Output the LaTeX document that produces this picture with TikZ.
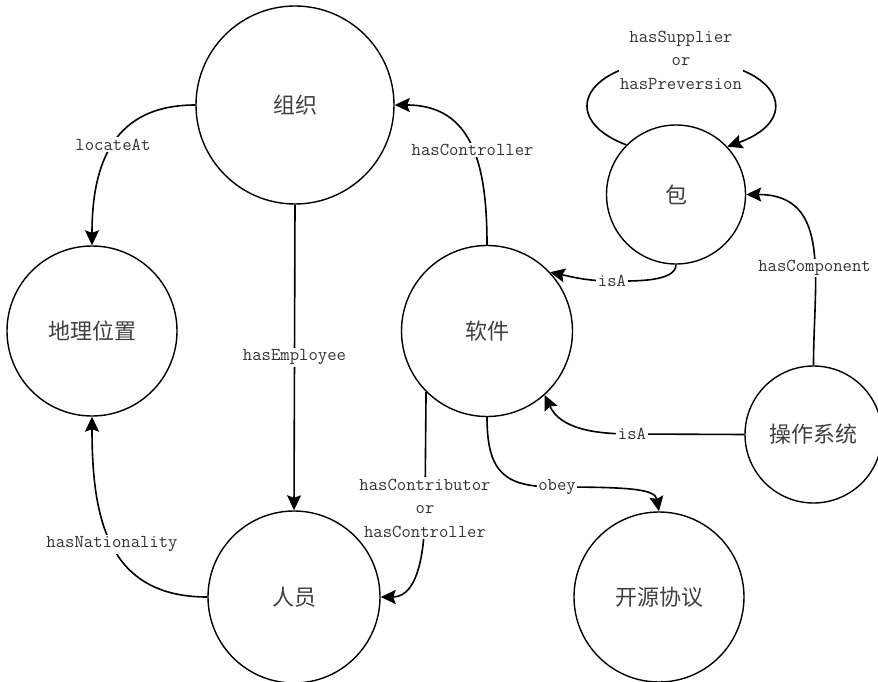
\documentclass[tikz,border=0pt]{standalone}
\usepackage{fontspec}
\newfontfamily\cjk{Noto Sans CJK SC}
\usetikzlibrary{arrows.meta}
\begin{document}
\begin{tikzpicture}[x=1pt,y=-1pt,
  concept/.style={circle,draw,line width=1.4pt,inner sep=0pt,minimum size=#1,
    font=\cjk\fontsize{22}{26}\selectfont,text=black!75},
  edge/.style={line width=1.6pt,-{Stealth[length=15pt,width=14pt,inset=2.5pt]}},
  lbl/.style={fill=white,inner sep=1.5pt,align=center,text=black!80,
    font=\ttfamily\fontsize{18.2}{23.5}\selectfont}]
\useasboundingbox (0,0) rectangle (878,682);
\fill[white] (0,0) rectangle (878,682);

% concepts
\node[concept=198pt] (org)     at (295,105)   {组织};
\node[concept=170pt] (geo)     at (92,331)    {地理位置};
\node[concept=172pt] (person)  at (294,597)   {人员};
\node[concept=171pt] (soft)    at (487,331)   {软件};
\node[concept=139pt] (pkg)     at (676,194.5) {包};
\node[concept=137pt] (os)      at (813.5,434.5) {操作系统};
\node[concept=170pt] (license) at (659,597)   {开源协议};

% waypoints of the bent relations
\coordinate (isaP)  at (612,281);
\coordinate (isaO)  at (632,434);
\coordinate (obeyC) at (557,487);
\coordinate (contC) at (425,508);
\coordinate (loopC) at (681,60);

% relations
\draw[edge] (org.west) to[out=180,in=90,looseness=1.2] node[lbl]{locateAt} (geo.north);
\draw[edge] (org.south) -- node[lbl]{hasEmployee} (person.north);
\draw[edge] (person.west) to[out=180,in=270,looseness=1.2] node[lbl]{hasNationality} (geo.south);
\draw[edge] (soft.north) to[out=90,in=0,looseness=1.2] node[lbl,pos=0.47]{hasController} (org.east);
\draw[edge] (pkg.south) to[out=-90,in=0,looseness=0.7] (isaP) node[lbl]{isA}
  to[out=180,in=-12] (soft.43);
\draw[edge] (os.west) -- (isaO) node[lbl]{isA} to[out=180,in=-65] (soft.-48);
\draw[edge] (os.north) to[out=90,in=0,looseness=1.2] node[lbl,pos=0.4]{hasComponent} (pkg.east);
\draw[edge] (soft.south) .. controls +(0,58) and +(-50,0) .. (obeyC) node[lbl]{obey}
  .. controls +(75,0) and +(-4,-22) .. (license.north);
\draw[edge] (soft.225) -- (contC) node[lbl]{hasContributor\\or\\hasController}
  to[out=-90,in=0] (person.east);
\draw[edge] (pkg.135) .. controls (555,118) and (585,60) .. (loopC)
  node[lbl]{hasSupplier\\or\\hasPreversion}
  .. controls (777,60) and (807,118) .. (pkg.43);
\end{tikzpicture}
\end{document}
